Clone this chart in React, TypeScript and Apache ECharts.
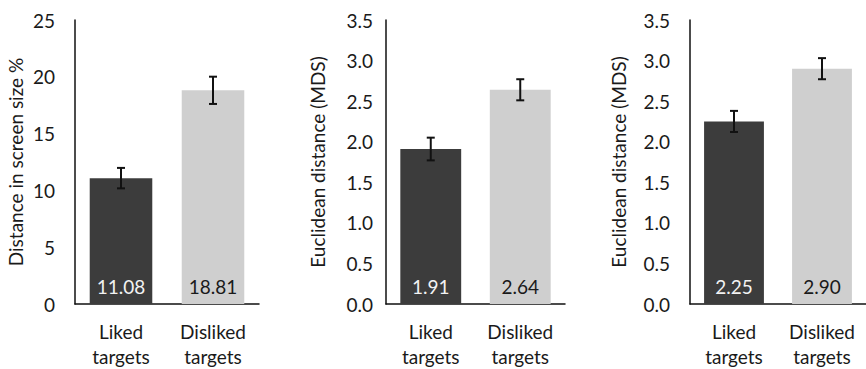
import React, { useEffect, useRef } from "react";
import * as echarts from "echarts";

const categories = ["Liked\ntargets", "Disliked\ntargets"];

const panel1Title = "Distance in screen size %";
const panel1Values = [11.08, 18.81];
const panel1Errors = [0.9, 1.2];
const panel1Ticks = { min: 0, max: 25, interval: 5 };

const panel2Title = "Euclidean distance (MDS)";
const panel2Values = [1.91, 2.64];
const panel2Errors = [0.14, 0.13];
const panel2Ticks = { min: 0, max: 3.5, interval: 0.5 };

const panel3Title = "Euclidean distance (MDS)";
const panel3Values = [2.25, 2.9];
const panel3Errors = [0.13, 0.13];
const panel3Ticks = { min: 0, max: 3.5, interval: 0.5 };

const barColors = ["#3c3c3c", "#cfcfcf"];
const labelColors = ["#f2f2f2", "#1a1a1a"];

const FONT = "Lato, 'Noto Sans', sans-serif";
const TEXT = "#1a1a1a";

export default function App() {
  const ref = useRef<HTMLDivElement>(null);

  useEffect(() => {
    if (!ref.current) return;
    const chart = echarts.init(ref.current, undefined, { renderer: "svg" });

    const panels = [
      { title: panel1Title, values: panel1Values, errors: panel1Errors, ticks: panel1Ticks, decimals: 2, tickDecimals: 0, grid: { left: 75, top: 20, width: 184, height: 284 }, labelMargin: 20, nameGap: 50 },
      { title: panel2Title, values: panel2Values, errors: panel2Errors, ticks: panel2Ticks, decimals: 2, tickDecimals: 1, grid: { left: 386, top: 20, width: 179, height: 284 }, labelMargin: 13, nameGap: 59 },
      { title: panel3Title, values: panel3Values, errors: panel3Errors, ticks: panel3Ticks, decimals: 2, tickDecimals: 1, grid: { left: 690, top: 20, width: 178, height: 284 }, labelMargin: 20, nameGap: 62 },
    ];

    const grid = panels.map((p) => ({ ...p.grid, containLabel: false }));
    const xAxis = panels.map((p, i) => ({
      type: "category",
      gridIndex: i,
      data: categories,
      axisLine: { show: true, lineStyle: { color: "#111", width: 1.5 } },
      axisTick: { show: false },
      axisLabel: { color: TEXT, fontFamily: FONT, fontSize: 19, lineHeight: 25, margin: 15, interval: 0 },
    }));
    const yAxis = panels.map((p, i) => ({
      type: "value",
      gridIndex: i,
      min: p.ticks.min,
      max: p.ticks.max,
      interval: p.ticks.interval,
      name: p.title,
      nameLocation: "middle",
      nameGap: p.nameGap,
      nameRotate: 90,
      nameTextStyle: { color: TEXT, fontFamily: FONT, fontSize: 19 },
      axisLine: { show: true, lineStyle: { color: "#111", width: 1.5 } },
      axisTick: { show: false },
      splitLine: { show: false },
      axisLabel: {
        color: TEXT,
        fontFamily: FONT,
        fontSize: 19,
        margin: p.labelMargin,
        formatter: (v: number) => v.toFixed(p.tickDecimals),
      },
    }));

    const series: any[] = [];
    panels.forEach((p, i) => {
      series.push({
        type: "bar",
        xAxisIndex: i,
        yAxisIndex: i,
        barWidth: "68%",
        data: p.values.map((v, j) => ({
          value: v,
          itemStyle: { color: barColors[j] },
          label: { color: labelColors[j] },
        })),
        label: {
          show: true,
          position: "insideBottom",
          distance: 8,
          fontFamily: FONT,
          fontSize: 19,
          formatter: (d: any) => Number(d.value).toFixed(p.decimals),
        },
      });
      series.push({
        type: "custom",
        xAxisIndex: i,
        yAxisIndex: i,
        z: 5,
        encode: { x: 0, y: 1 },
        data: p.values.map((v, j) => [j, v, p.errors[j]]),
        renderItem: (params: any, api: any) => {
          const x = api.value(0);
          const v = api.value(1);
          const e = api.value(2);
          const top = api.coord([x, v + e]);
          const bot = api.coord([x, v - e]);
          const half = 4;
          const style = { stroke: "#111", lineWidth: 2 };
          return {
            type: "group",
            children: [
              { type: "line", shape: { x1: top[0], y1: top[1], x2: bot[0], y2: bot[1] }, style },
              { type: "line", shape: { x1: top[0] - half, y1: top[1], x2: top[0] + half, y2: top[1] }, style },
              { type: "line", shape: { x1: bot[0] - half, y1: bot[1], x2: bot[0] + half, y2: bot[1] }, style },
            ],
          };
        },
      });
    });

    chart.setOption({
      animation: false,
      backgroundColor: "#ffffff",
      grid,
      xAxis,
      yAxis,
      series,
    });

    return () => chart.dispose();
  }, []);

  return (
    <div
      ref={ref}
      style={{ position: "absolute", left: 0, top: 0, width: 866, height: 369 }}
    />
  );
}
